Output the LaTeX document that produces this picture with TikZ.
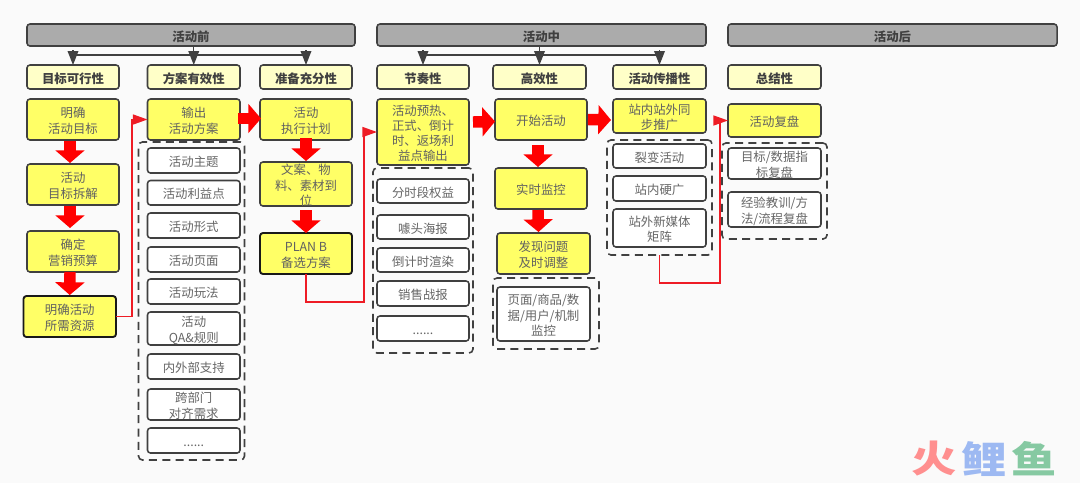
\documentclass[tikz,border=0pt]{standalone}
\usepackage{fontspec}
\usepackage{graphicx}
\setmainfont{Noto Sans CJK SC}
\usetikzlibrary{arrows.meta}
\definecolor{bgc}{HTML}{FAFAFA}
\definecolor{edgec}{HTML}{404040}
\definecolor{grayf}{HTML}{ABABAB}
\definecolor{subf}{HTML}{FFFFC8}
\definecolor{yelf}{HTML}{FFFF66}
\definecolor{redc}{HTML}{FF0000}
\definecolor{thinred}{HTML}{EE1C25}
\definecolor{wmr}{HTML}{FF8F8F}
\definecolor{wmb}{HTML}{9DB9F2}
\definecolor{wmg}{HTML}{86C9A2}
\newcommand{\bx}[7][]{%
  \pgfmathsetmacro{\bw}{(#5-#3)*0.75}%
  \pgfmathsetmacro{\bh}{(#6-#4)*0.75}%
  \pgfmathsetmacro{\bcx}{(#3+#5)/2}%
  \pgfmathsetmacro{\bcy}{(#4+#6)/2}%
  \node[#1,minimum width=\bw pt,minimum height=\bh pt] (#2) at (\bcx,\bcy)
    {\raisebox{-4.5pt}[0pt][0pt]{\begin{tabular}{@{}c@{}}#7\end{tabular}}};}
\tikzset{
  base/.style={rounded corners=2.2pt,line width=1.15pt,draw=edgec,inner sep=0pt,outer sep=0pt,
    font=\fontsize{9.3}{11.3}\selectfont},
  hdr/.style={base,fill=grayf,text=edgec,font=\fontsize{9.3}{11.3}\selectfont\bfseries},
  subh/.style={base,fill=subf,text=edgec,font=\fontsize{9.3}{11.3}\selectfont\bfseries},
  ybox/.style={base,fill=yelf,text=black!62},
  ykey/.style={ybox,draw=black!90,line width=1.4pt},
  wbox/.style={base,fill=white,text=black!60},
  grp/.style={rounded corners=3pt,draw=edgec,line width=1.2pt,dash pattern=on 6pt off 4pt,inner sep=0pt,outer sep=0pt},
  blk/.style={draw=redc,line width=8.6pt,-{Triangle[length=9.5pt,width=21.5pt]},redc},
  thin/.style={draw=thinred,line width=1.2pt},
  thina/.style={thin,-{Triangle[length=11pt,width=7.5pt]}},
  bar/.style={draw=edgec,line width=1pt},
  drop/.style={draw=edgec,line width=1pt,-{Triangle[length=10.5pt,width=8pt]},edgec},
  wm/.style={inner sep=0pt,font=\fontsize{34}{34}\selectfont\bfseries},
}
\begin{document}
\begin{tikzpicture}[x=0.75pt,y=-0.75pt]
\useasboundingbox (0,0) rectangle (1080,483);
\fill[bgc] (0,0) rectangle (1080,483);
% groups
\bx[grp]{ga}{138.5}{142}{244.5}{460}{}
\bx[grp]{gb}{373}{168}{473}{353}{}
\bx[grp]{gc}{493}{278}{599}{349}{}
\bx[grp]{gd}{607}{140}{712}{255}{}
\bx[grp]{ge}{722}{143}{827}{239}{}
% headers
\bx[hdr]{h1}{27}{24}{355}{46}{活动前}
\bx[hdr]{h2}{377}{24}{706}{46}{活动中}
\bx[hdr]{h3}{728}{24}{1057}{46}{活动后}
% sub headers
\bx[subh]{s1}{27}{65}{119}{89}{目标可行性}
\bx[subh]{s2}{147.5}{65}{240}{89}{方案有效性}
\bx[subh]{s3}{260}{65}{352}{89}{准备充分性}
\bx[subh]{s4}{377}{65}{469}{89}{节奏性}
\bx[subh]{s5}{493}{65}{586}{89}{高效性}
\bx[subh]{s6}{613}{65}{706}{89}{活动传播性}
\bx[subh]{s7}{728}{65}{821}{89}{总结性}
% yellow steps
\bx[ybox]{a1}{27}{99}{119}{140}{明确\\活动目标}
\bx[ybox]{a2}{27}{164}{119}{205}{活动\\目标拆解}
\bx[ybox]{a3}{27}{231}{119}{272}{确定\\营销预算}
\bx[ykey]{a4}{23.5}{296}{116}{337}{明确活动\\所需资源}
\bx[ybox]{b1}{147.5}{99}{240}{140}{输出\\活动方案}
\bx[ybox]{c1}{260}{99}{352}{140}{活动\\执行计划}
\bx[ybox]{c2}{260}{162}{352}{206}{文案、物\\料、素材到\\位}
\bx[ykey]{c3}{260}{233}{352}{274}{PLAN B\\备选方案}
\bx[ybox]{d1}{377}{99}{469}{165}{活动预热、\\正式、倒计\\时、返场利\\益点输出}
\bx[ybox]{e1}{495}{99}{587}{140}{开始活动}
\bx[ybox]{e2}{495}{168}{587}{209}{实时监控}
\bx[ybox]{e3}{497}{233}{590}{274}{发现问题\\及时调整}
\bx[ybox]{f1}{613}{99}{706}{133}{站内站外同\\步推广}
\bx[ybox]{k1}{728}{104}{821}{137}{活动复盘}
% white items
\bx[wbox]{w1}{147.5}{148}{240}{173}{活动主题}
\bx[wbox]{w2}{147.5}{180.5}{240}{205}{活动利益点}
\bx[wbox]{w3}{147.5}{213}{240}{238}{活动形式}
\bx[wbox]{w4}{147.5}{247}{240}{272}{活动页面}
\bx[wbox]{w5}{147.5}{279}{240}{304}{活动玩法}
\bx[wbox]{w6}{147.5}{312}{240}{345}{活动\\QA\&规则}
\bx[wbox]{w7}{147.5}{354}{240}{379}{内外部支持}
\bx[wbox]{w8}{147.5}{389}{240}{420}{跨部门\\对齐需求}
\bx[wbox]{w9}{147.5}{428}{240}{453}{......}
\bx[wbox]{x1}{377}{179}{469}{203}{分时段权益}
\bx[wbox]{x2}{377}{215}{469}{239}{噱头海报}
\bx[wbox]{x3}{377}{248}{469}{272}{倒计时渲染}
\bx[wbox]{x4}{377}{281}{469}{306}{销售战报}
\bx[wbox]{x5}{377}{316}{469}{341}{......}
\bx[wbox]{y1}{497}{287}{590}{341}{页面/商品/数\\据/用户/机制\\监控}
\bx[wbox]{z1}{613}{144}{706}{168}{裂变活动}
\bx[wbox]{z2}{613}{176}{706}{201}{站内硬广}
\bx[wbox]{z3}{613}{209}{706}{247}{站外新媒体\\矩阵}
\bx[wbox]{q1}{728}{148}{821}{179}{目标/数据指\\标复盘}
\bx[wbox]{q2}{728}{192}{821}{227}{经验教训/方\\法/流程复盘}
% header drops
\coordinate (bary) at (0,55);
\coordinate (topy) at (0,50);
\draw[bar] (s1.north|-bary) -- (s3.north|-bary);
\draw[drop] (s1.north|-topy) -- (s1.north);
\draw[drop] (s2.north|-h1.south) -- (s2.north);
\draw[drop] (s3.north|-topy) -- (s3.north);
\draw[bar] (s4.north|-bary) -- (s6.north|-bary);
\draw[drop] (s4.north|-topy) -- (s4.north);
\draw[drop] (s5.north|-h2.south) -- (s5.north);
\draw[drop] (s6.north|-topy) -- (s6.north);
% block arrows
\draw[blk] ([shift={(-3,1)}]a1.south) -- ([shift={(-3,-1)}]a2.north);
\draw[blk] ([shift={(-3,1)}]a2.south) -- ([shift={(-3,-3)}]a3.north);
\draw[blk] ([shift={(-3,0)}]a3.south) -- ([shift={(0,-1)}]a4.north);
\draw[blk] ([shift={(-2,-1)}]b1.east) -- ([shift={(1,-1)}]c1.west);
\draw[blk] ([shift={(0,-2)}]c1.south) -- ([shift={(0,-1)}]c2.north);
\draw[blk] ([shift={(0,4)}]c2.south) -- ([shift={(0,0)}]c3.north);
\draw[blk] ([shift={(4,-10)}]d1.east) -- ([shift={(0,2)}]e1.west);
\draw[blk] ([shift={(1,0)}]e1.east) -- ([shift={(-2,4)}]f1.west);
\draw[blk] ([shift={(-3,5)}]e1.south) -- ([shift={(-3,-1)}]e2.north);
\draw[blk] ([shift={(-3,1)}]e2.south) -- ([shift={(-5,-1)}]e3.north);
% thin red connectors
\coordinate (p1) at (132,119.5);
\coordinate (p2) at (364,302);
\coordinate (p3) at (720,283);
\draw[thina] (a4.east) -| (p1) -- (b1.west);
\draw[thina] (c3.south) |- (p2) |- (d1.west);
\draw[thina] (gd.south) |- (p3) |- (k1.west);
% watermark
\node[wm,text=wmr] (m1) at (934,459) {\scalebox{1}[.82]{火}};
\node[wm,text=wmb] (m2) at (984,459) {\scalebox{1}[.82]{鲤}};
\node[wm,text=wmg] (m3) at (1034,459) {\scalebox{1}[.82]{鱼}};
\end{tikzpicture}
\end{document}
